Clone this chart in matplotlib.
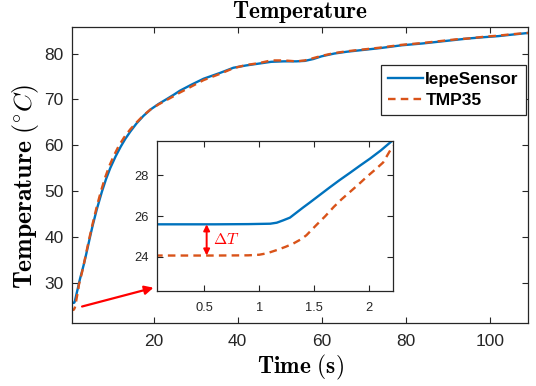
import matplotlib
matplotlib.use("Agg")
import matplotlib.pyplot as plt

plt.rcParams['mathtext.fontset'] = 'cm'
plt.rcParams['font.family'] = ['Liberation Sans', 'DejaVu Sans']

# ---- data ----
t_iepe = [0.05, 0.3, 0.6, 0.9, 1.1, 1.16, 1.22, 1.28, 1.34, 1.40, 1.46, 1.55, 1.64, 1.73,
          1.83, 1.92, 2.01, 2.11, 2.21, 2.5, 3.0, 3.5, 4.0, 4.9, 5.5, 6.5, 7.7, 8.7, 9.7,
          11.0, 12.2, 13.3, 14.5, 16.0, 17.6, 19.3, 21.2, 23.2, 24.8, 26.3, 29.0, 31.9,
          35.9, 39.0, 42, 45, 48, 51, 54, 56, 58, 60, 63, 66, 70, 74, 79, 84, 88, 92, 95,
          99, 102, 105, 109.2]
T_iepe = [25.59, 25.59, 25.59, 25.60, 25.62, 25.67, 25.79, 25.92, 26.17, 26.42, 26.66, 27.03,
          27.40, 27.76, 28.14, 28.49, 28.83, 29.24, 29.70, 30.8, 32.5, 34.3, 36.3, 40.0, 42.4,
          46.0, 49.8, 52.6, 55.0, 57.6, 59.7, 61.4, 63.0, 64.8, 66.4, 67.8, 69.0, 70.1, 71.0,
          71.9, 73.2, 74.5, 75.8, 76.9, 77.4, 77.8, 78.2, 78.3, 78.3, 78.4, 78.8, 79.4, 80.0,
          80.4, 80.8, 81.2, 81.8, 82.2, 82.6, 83.0, 83.3, 83.6, 83.8, 84.1, 84.5]

t_tmp = [0.05, 0.3, 0.6, 0.9, 1.0, 1.07, 1.16, 1.24, 1.31, 1.38, 1.43, 1.52, 1.60, 1.68, 1.75,
         1.83, 1.91, 1.98, 2.06, 2.13, 2.21, 2.5, 3.0, 3.5, 4.0, 4.8, 5.5, 6.5, 7.5, 8.5, 9.5,
         10.5, 11.7, 13.0, 14.5, 16.0, 17.6, 19.3, 21.2, 23.2, 24.8, 26.3, 28.0, 29.0, 31.9,
         35.9, 39.0, 42, 45, 48, 51, 54, 56, 58, 60, 63, 66, 70, 74, 79, 84, 88, 92, 95, 99,
         102, 105, 109.2]
T_tmp = [24.05, 24.05, 24.05, 24.06, 24.09, 24.16, 24.32, 24.48, 24.64, 24.85, 25.05, 25.55,
         25.98, 26.45, 26.82, 27.20, 27.58, 27.93, 28.30, 28.64, 29.38, 30.5, 32.3, 34.4, 36.6,
         40.0, 42.8, 46.6, 50.0, 53.0, 55.5, 57.6, 59.8, 61.7, 63.5, 65.0, 66.5, 67.8, 68.9,
         69.9, 70.7, 71.5, 72.3, 72.8, 74.2, 75.6, 76.8, 77.5, 77.9, 78.5, 78.5, 78.3, 78.5,
         79.0, 79.5, 80.1, 80.5, 80.9, 81.3, 81.9, 82.3, 82.7, 83.1, 83.3, 83.7, 83.9, 84.2,
         84.5]

labels = ['IepeSensor', 'TMP35']
main_xticks = [20, 40, 60, 80, 100]
main_yticks = [30, 40, 50, 60, 70, 80]
inset_xticks = [0.5, 1, 1.5, 2]
inset_xticklabels = ['0.5', '1', '1.5', '2']
inset_yticks = [24, 26, 28]

BLUE = '#0072BD'
ORANGE = '#D95319'
AX = '#262626'

fig = plt.figure(figsize=(5.36, 3.86), dpi=100)
ax = fig.add_axes([0.1343, 0.1632, 0.8507, 0.7681])

ax.plot(t_iepe, T_iepe, color=BLUE, lw=1.7, label=labels[0])
ax.plot(t_tmp, T_tmp, color=ORANGE, lw=1.7, ls=(0, (3.2, 2.2)), label=labels[1])
ax.set_xlim(0.6, 109.1)
ax.set_ylim(21.2, 85.9)
ax.set_xticks(main_xticks)
ax.set_yticks(main_yticks)
ax.tick_params(direction='in', top=True, right=True, length=4, width=0.8,
               labelsize=12.5, colors=AX)
ax.tick_params(axis='x', pad=8)
ax.tick_params(axis='y', pad=6)
for s in ax.spines.values():
    s.set_color(AX)
    s.set_linewidth(0.9)

ax.set_title(r'$\mathbf{Temperature}$', fontsize=16.8, pad=6)
ax.set_xlabel(r'$\mathbf{Time\ (s)}$', fontsize=16.8)
ax.xaxis.set_label_coords(0.5, -0.102)
ax.set_ylabel(r'$\mathbf{Temperature\ (}{}^{\circ}C\mathbf{)}$', fontsize=18.5)
ax.yaxis.set_label_coords(-0.069, 0.46)

leg = ax.legend(loc='upper right', bbox_to_anchor=(0.9808, 0.8316),
                bbox_transform=fig.transFigure, borderaxespad=0,
                fancybox=False, framealpha=1, edgecolor=AX,
                prop={'weight': 'bold', 'size': 12.5}, handlelength=2.0,
                handletextpad=0.15, labelspacing=0.35, borderpad=0.4)
leg.get_frame().set_linewidth(0.9)

# arrow from the start region to the inset
ax.annotate('', xy=(20.0, 28.9), xytext=(3.0, 24.8),
            arrowprops=dict(arrowstyle='-|>', color='red', lw=1.6,
                            mutation_scale=13, shrinkA=0, shrinkB=0))

# inset
ins = fig.add_axes([0.2935, 0.2461, 0.4397, 0.3886])
ins.plot(t_iepe, T_iepe, color=BLUE, lw=1.7)
ins.plot(t_tmp, T_tmp, color=ORANGE, lw=1.7, ls=(0, (3.2, 2.2)))
ins.set_xlim(0.07, 2.22)
ins.set_ylim(22.3, 29.7)
ins.set_xticks(inset_xticks)
ins.set_xticklabels(inset_xticklabels)
ins.set_yticks(inset_yticks)
ins.tick_params(direction='in', top=True, right=True, length=4, width=0.8,
                labelsize=9.3, colors=AX)
ins.tick_params(axis='x', pad=8)
ins.tick_params(axis='y', pad=6)
for s in ins.spines.values():
    s.set_color(AX)
    s.set_linewidth(0.9)

ins.annotate('', xy=(0.52, T_iepe[0]), xytext=(0.52, T_tmp[0]),
             arrowprops=dict(arrowstyle='<|-|>', color='red', lw=1.4,
                             mutation_scale=9, shrinkA=0, shrinkB=0))
ins.text(0.58, 24.85, r'$\Delta T$', color='red', fontsize=11.5, va='center')

fig.savefig('out.png', dpi=100)
